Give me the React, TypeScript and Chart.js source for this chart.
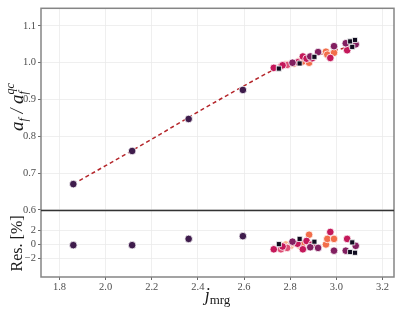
import React, { useEffect, useRef } from "react";
import { Chart, registerables } from "chart.js";

Chart.register(...registerables);

// ---- data ----
const darkJ = [1.86, 2.115, 2.36, 2.595];
const darkRatio = [0.67, 0.76, 0.847, 0.926];
const darkRes = [-0.1, -0.1, 0.8, 1.2];

const blackJ = [2.751, 2.841, 2.905, 3.06, 3.069, 3.081];
const blackRatio = [0.984, 0.998, 1.016, 1.058, 1.043, 1.062];
const blackRes = [0.05, 0.8, 0.4, -1.1, 0.3, -1.2];

const purpleJ = [2.81, 2.887, 2.921, 2.99, 3.041, 3.084];
const purpleRatio = [1.0, 1.017, 1.029, 1.045, 1.053, 1.05];
const purpleRes = [0.4, -0.4, -0.5, -0.9, -0.9, -0.2];

const crimsonJ = [2.729, 2.767, 2.832, 2.855, 2.871, 2.895, 2.974, 3.047];
const crimsonRatio = [0.986, 0.993, 1.001, 1.017, 1.011, 1.012, 1.013, 1.034];
const crimsonRes = [-0.7, -0.3, 0.1, -0.7, 0.5, 0.0, 1.8, 0.8];

const roseJ = [2.76, 2.787];
const roseRatio = [0.99, 0.994];
const roseRes = [-0.7, -0.5];

const orangeJ = [2.817, 2.853, 2.882, 2.955, 2.961, 2.99];
const orangeRatio = [0.998, 1.003, 1.0, 1.03, 1.022, 1.027];
const orangeRes = [0.2, 0.1, 1.4, 0.0, 0.8, 0.8];

const peachJ = [2.781, 2.802, 2.841];
const peachRatio = [0.996, 0.998, 1.005];
const peachRes = [0.0, -0.2, -0.2];

const fitJ = [1.86, 2.0, 2.2, 2.4, 2.6, 2.75, 2.9, 3.0, 3.09];
const fitRatio = [0.67, 0.72, 0.792, 0.866, 0.937, 0.987, 1.018, 1.034, 1.05];

const xTicks = [1.8, 2.0, 2.2, 2.4, 2.6, 2.8, 3.0, 3.2];
const topTicks = [0.6, 0.7, 0.8, 0.9, 1.0, 1.1];
const resTicks = [-2, 0, 2];

const groups = [
  { j: blackJ, r: blackRatio, e: blackRes, color: "#100c1f", style: "rect" },
  { j: purpleJ, r: purpleRatio, e: purpleRes, color: "#821f60", style: "circle" },
  { j: crimsonJ, r: crimsonRatio, e: crimsonRes, color: "#c4185a", style: "circle" },
  { j: roseJ, r: roseRatio, e: roseRes, color: "#de4e74", style: "circle" },
  { j: orangeJ, r: orangeRatio, e: orangeRes, color: "#f26e4a", style: "circle" },
  { j: peachJ, r: peachRatio, e: peachRes, color: "#f8b08a", style: "circle" },
  { j: darkJ, r: darkRatio, e: darkRes, color: "#3f1c4c", style: "circle" },
];

const SERIF = "'Liberation Serif', 'DejaVu Serif', serif";

type Part = { t: string; size: number; italic?: boolean; dy?: number; noAdvance?: boolean };

function drawParts(ctx: CanvasRenderingContext2D, parts: Part[], x: number, y: number, rotate: boolean) {
  ctx.save();
  ctx.translate(x, y);
  if (rotate) ctx.rotate(-Math.PI / 2);
  let total = 0;
  for (const p of parts) {
    ctx.font = `${p.italic ? "italic " : ""}${p.size}px ${SERIF}`;
    if (!p.noAdvance) total += ctx.measureText(p.t).width;
  }
  let cx = -total / 2;
  ctx.fillStyle = "#1a1a1a";
  ctx.textBaseline = "alphabetic";
  ctx.textAlign = "left";
  for (const p of parts) {
    ctx.font = `${p.italic ? "italic " : ""}${p.size}px ${SERIF}`;
    ctx.fillText(p.t, cx, p.dy || 0);
    if (!p.noAdvance) cx += ctx.measureText(p.t).width;
  }
  ctx.restore();
}

const decorPlugin = {
  id: "decor",
  afterDraw(chart: any) {
    const ctx = chart.ctx as CanvasRenderingContext2D;
    const a = chart.chartArea;
    const yTop = chart.scales.y;
    const yRes = chart.scales.y2;
    ctx.save();
    ctx.strokeStyle = "#858585";
    ctx.lineWidth = 1.5;
    ctx.strokeRect(a.left, a.top, a.right - a.left, a.bottom - a.top);
    const yd = Math.round(yTop.getPixelForValue(0.6)) + 0.5;
    ctx.strokeStyle = "#333333";
    ctx.lineWidth = 1.3;
    ctx.beginPath();
    ctx.moveTo(a.left, yd);
    ctx.lineTo(a.right, yd);
    ctx.stroke();
    ctx.restore();

    const topMid = (yTop.top + yTop.bottom) / 2;
    drawParts(
      ctx,
      [
        { t: "a", size: 19, italic: true },
        { t: "f", size: 12, italic: true, dy: 4 },
        { t: " / ", size: 18, italic: true },
        { t: "a", size: 19, italic: true },
        { t: "qc", size: 12, italic: true, dy: -9, noAdvance: true },
        { t: "f", size: 12, italic: true, dy: 4 },
        { t: "  ", size: 8 },
      ],
      23,
      topMid,
      true
    );
    const resMid = (yRes.top + yRes.bottom) / 2;
    drawParts(ctx, [{ t: "Res. [%]", size: 16 }], 22, resMid, true);
    const xMid = (a.left + a.right) / 2;
    drawParts(
      ctx,
      [
        { t: "j", size: 18, italic: true },
        { t: "mrg", size: 13, dy: 3 },
      ],
      xMid,
      301,
      false
    );
  },
};

export default function App() {
  const ref = useRef<HTMLCanvasElement | null>(null);
  useEffect(() => {
    if (!ref.current) return;
    const datasets: any[] = [];
    datasets.push({
      label: "fit",
      data: fitJ.map((x, i) => ({ x, y: fitRatio[i] })),
      type: "line",
      yAxisID: "y",
      borderColor: "#b5262b",
      borderWidth: 1.5,
      borderDash: [4, 3],
      pointRadius: 0,
      cubicInterpolationMode: "monotone",
      order: 20,
    });
    groups.forEach((g, gi) => {
      const common = {
        type: "scatter",
        pointStyle: g.style,
        backgroundColor: g.color,
        borderColor: "#ffffff",
        borderWidth: 0.8,
        pointRadius: g.style === "rect" ? 3.6 : 3.8,
        order: gi,
      };
      datasets.push({
        ...common,
        label: "top" + gi,
        yAxisID: "y",
        data: g.j.map((x, i) => ({ x, y: g.r[i] })),
      });
      datasets.push({
        ...common,
        label: "res" + gi,
        yAxisID: "y2",
        data: g.j.map((x, i) => ({ x, y: g.e[i] })),
      });
    });

    const tickFont = { family: SERIF, size: 10.5 };
    const grid = { color: "#ebebeb", lineWidth: 0.8, tickLength: 3, tickColor: "#444", drawTicks: true };
    const chart = new Chart(ref.current, {
      type: "scatter",
      data: { datasets },
      plugins: [decorPlugin],
      options: {
        responsive: false,
        animation: false,
        devicePixelRatio: 1,
        layout: { padding: { top: 5, right: 5, left: 0, bottom: 0 } },
        plugins: { legend: { display: false }, tooltip: { enabled: false } },
        scales: {
          x: {
            type: "linear",
            min: 1.72,
            max: 3.25,
            grid,
            border: { display: false },
            afterBuildTicks: (s: any) => {
              s.ticks = xTicks.map((v) => ({ value: v }));
            },
            afterFit: (s: any) => {
              s.height = 35;
            },
            ticks: {
              font: tickFont,
              color: "#4d4d4d",
              padding: 1,
              maxRotation: 0,
              callback: (v: any) => Number(v).toFixed(1),
            },
          },
          y2: {
            type: "linear",
            position: "left",
            stack: "s",
            stackWeight: 1,
            min: -4.7,
            max: 5,
            grid,
            border: { display: false },
            afterBuildTicks: (s: any) => {
              s.ticks = resTicks.map((v) => ({ value: v }));
            },
            afterFit: (s: any) => {
              s.width = 41;
            },
            ticks: {
              font: tickFont,
              color: "#4d4d4d",
              padding: 2,
              callback: (v: any) => (Number(v) < 0 ? "\u2212" + Math.abs(Number(v)) : String(v)),
            },
          },
          y: {
            type: "linear",
            position: "left",
            stack: "s",
            stackWeight: 3,
            min: 0.6,
            max: 1.148,
            grid,
            border: { display: false },
            afterBuildTicks: (s: any) => {
              s.ticks = topTicks.map((v) => ({ value: v }));
            },
            afterFit: (s: any) => {
              s.width = 41;
            },
            ticks: {
              font: tickFont,
              color: "#4d4d4d",
              padding: 2,
              callback: (v: any) => Number(v).toFixed(1),
            },
          },
        },
      } as any,
    } as any);
    return () => chart.destroy();
  }, []);
  return (
    <div style={{ position: "absolute", left: 0, top: 0, width: 399, height: 312, background: "#fff" }}>
      <canvas ref={ref} width={399} height={312} style={{ width: 399, height: 312 }} />
    </div>
  );
}
